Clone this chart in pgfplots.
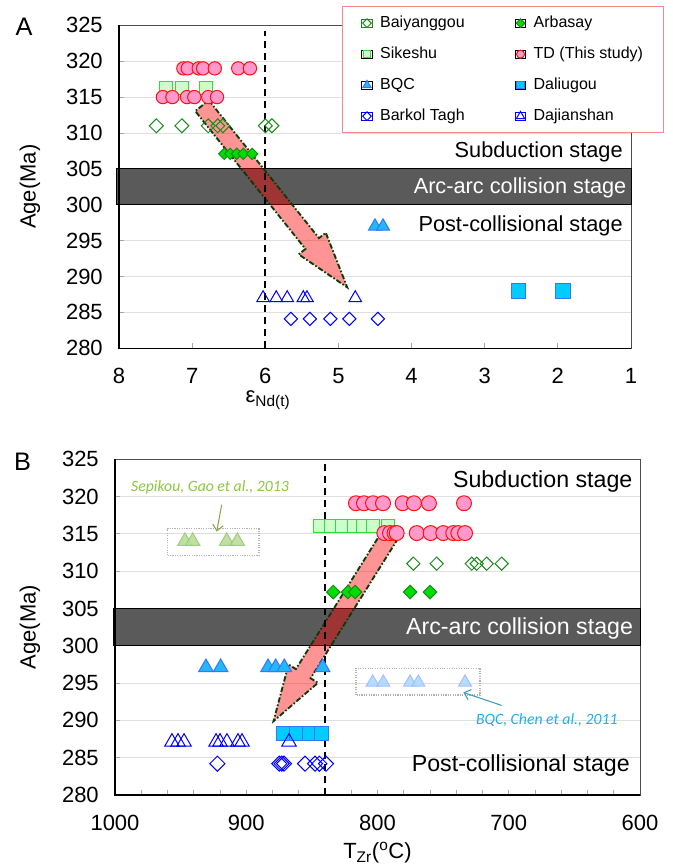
\documentclass[border=0pt]{standalone}
\usepackage{fontspec}
\setmainfont{Liberation Sans}
\newfontfamily\annfont{Carlito}
\usepackage{pgfplots}
\pgfplotsset{compat=1.18}
\usetikzlibrary{calc,arrows.meta}

\definecolor{cBaiy}{HTML}{1A8A1A}
\definecolor{cArbF}{HTML}{00DD00}
\definecolor{cArbE}{HTML}{1A8A1A}
\definecolor{cSikF}{HTML}{CCFFCC}
\definecolor{cSikE}{HTML}{33DD33}
\definecolor{cTDF}{HTML}{FF99CC}
\definecolor{cTDE}{HTML}{FF1010}
\definecolor{cBQCF}{HTML}{22B8F8}
\definecolor{cBQCE}{HTML}{3377FF}
\definecolor{cDalF}{HTML}{00CCFF}
\definecolor{cDalE}{HTML}{3377FF}
\definecolor{cBlue}{HTML}{0000FF}
\definecolor{cBand}{HTML}{5A5A5A}
\definecolor{cSepF}{HTML}{BADD98}
\definecolor{cSepE}{HTML}{94CC78}
\definecolor{cChenF}{HTML}{A8DCFF}
\definecolor{cChenE}{HTML}{A8B8FF}
\definecolor{cSepT}{HTML}{8DC63F}
\definecolor{cSepA}{HTML}{8AA64A}
\definecolor{cChenT}{HTML}{1CB0E8}
\definecolor{cChenA}{HTML}{3AA0B8}
\definecolor{cLeg}{HTML}{F08C8C}
\definecolor{cArrow}{HTML}{0A3A0A}

\pgfplotsset{
  mk/.style={only marks, line width=0.75pt},
  baiy/.style={mk, color=cBaiy, mark=square, mark options={rotate=45}},
  arb/.style={mk, mark=square*, mark options={rotate=45, draw=cArbE, fill=cArbF}},
  sik/.style={mk, mark=square*, mark options={draw=cSikE, fill=cSikF}},
  td/.style={mk, mark=*, mark options={draw=cTDE, fill=cTDF}},
  bqc/.style={mk, mark=triangle*, mark options={draw=cBQCE, fill=cBQCF}},
  dal/.style={mk, mark=square*, mark options={draw=cDalE, fill=cDalF}},
  bark/.style={mk, color=cBlue, mark=square, mark options={rotate=45}},
  daj/.style={mk, color=cBlue, mark=triangle},
  sep/.style={mk, mark=triangle*, mark options={draw=cSepE, fill=cSepF, opacity=0.9}},
  chen/.style={mk, mark=triangle*, mark options={draw=cChenE, fill=cChenF, opacity=0.9}},
  common/.style={
    scale only axis,
    ymin=280, ymax=325, ytick={280,285,...,325},
    x dir=reverse,
    xtick pos=bottom, ytick pos=left, tick align=inside,
    major tick length=4pt, minor tick length=4pt,
    tick style={draw=gray!70, line width=0.6pt},
    ymajorgrids, grid style={draw=gray!25, line width=0.6pt},
    axis line style={draw=gray!60!black, line width=0.6pt},
    tick label style={font=\fontsize{16.5}{18}\selectfont},
    /pgf/number format/assume math mode=true,
    /pgf/number format/1000 sep={},
    yticklabel style={anchor=east, inner sep=0pt, xshift=-12pt},
    xticklabel style={anchor=north, inner sep=0pt, yshift=-14.8pt},
    label style={font=\fontsize{16.5}{18}\selectfont},
    ylabel={Age(Ma)},
    clip=false,
  },
}

\newcommand{\fatarrow}[2]{%
  \coordinate (FS) at (axis cs:#1);
  \coordinate (FT) at (axis cs:#2);
  \coordinate (FH) at ($(FT)!42pt!(FS)$);
  \path[fill=red, fill opacity=0.42, draw=cArrow, line width=1.4pt,
        dash pattern=on 4pt off 1.5pt on 1.2pt off 1.5pt]
    ($(FS)!6.5pt!90:(FT)$) -- ($(FH)!6.5pt!90:(FT)$) -- ($(FH)!13pt!90:(FT)$) -- (FT)
    -- ($(FH)!13pt!-90:(FT)$) -- ($(FH)!6.5pt!-90:(FT)$) -- ($(FS)!6.5pt!-90:(FT)$) -- cycle;
}

\begin{document}
\begin{tikzpicture}
\path[use as bounding box] (0pt,0pt) rectangle (504.75pt,-649.5pt);

\node[font=\fontsize{19}{22}\selectfont] at (18pt,-20.25pt) {A};
\node[font=\fontsize{19}{22}\selectfont] at (17pt,-346.5pt) {B};

% ---------------- Panel A ----------------
\begin{axis}[common,
  at={(89.25pt,-18.98pt)}, anchor=north west,
  width=384pt, height=242.25pt,
  xmin=1, xmax=8, xtick={1,2,...,8},
  xlabel={ε\textsubscript{Nd(t)}},
  xlabel style={at={(axis description cs:0.291,-0.16)}, anchor=center},
  ylabel style={at={(axis description cs:-0.174,0.5)}, anchor=center},
  legend columns=2, legend cell align=left,
  legend image code/.code={\path (-4pt,-3pt) rectangle (4pt,3pt); \draw[#1] plot coordinates {(0pt,0pt)};},
  legend style={at={(axis description cs:0.4355,1.0598)}, anchor=north west,
    draw=cLeg, line width=0.8pt, fill=white,
    font=\fontsize{12}{14}\selectfont,
    inner xsep=14pt, inner ysep=5pt, row sep=8.25pt,
    nodes={inner sep=1.5pt, text height=9pt, text depth=3pt},
    /tikz/every odd column/.append style={column sep=4pt},
    /tikz/every even column/.append style={column sep=36pt}},
]
\fill[cBand, draw=black, line width=0.6pt] (axis cs:8.04,300) rectangle (axis cs:1,305);

\addplot[baiy, mark size=3.7pt, forget plot] coordinates {(7.49,311)(7.14,311)(6.78,311)(6.65,311)(6.58,311)(6.00,311)(5.91,311)};
\addplot[arb, mark size=3.0pt, forget plot] coordinates {(6.56,307.1)(6.48,307.1)(6.39,307.1)(6.30,307.1)(6.18,307.1)};
\addplot[sik, mark size=5.0pt, forget plot] coordinates {(7.36,316.3)(7.14,316.3)(6.81,316.3)};
\addplot[td, mark size=5.0pt, forget plot] coordinates {(7.12,319)(7.06,319)(6.91,319)(6.85,319)(6.69,319)(6.37,319)(6.21,319)
  (7.40,315)(7.27,315)(7.07,315)(6.97,315)(6.78,315)(6.66,315)};
\addplot[bqc, mark size=5.6pt, forget plot] coordinates {(4.50,297)(4.39,297)};
\addplot[dal, mark size=5.4pt, forget plot] coordinates {(2.54,288)(1.93,288)};
\addplot[bark, mark size=3.5pt, forget plot] coordinates {(5.65,284.1)(5.39,284.1)(5.11,284.1)(4.85,284.1)(4.46,284.1)};
\addplot[daj, mark size=5.5pt, forget plot] coordinates {(6.03,287)(5.85,287)(5.70,287)(5.48,287)(5.43,287)(4.77,287)};

\fatarrow{6.865,313.8}{4.88,288.5}

\draw[black, line width=1.5pt, dash pattern=on 5.25pt off 3.75pt] (axis cs:6,280) -- (axis cs:6,324.2);
\draw[black, line width=0.8pt] (axis description cs:0,1) -- (axis description cs:0,0) -- (axis description cs:1,0);

\node[anchor=east, inner sep=0pt, font=\fontsize{16.3}{18}\selectfont] at (axis cs:1.11,307.4) {Subduction stage};
\node[anchor=east, inner sep=0pt, text=white, font=\fontsize{16.3}{18}\selectfont] at (axis cs:1.06,302.3) {Arc-arc collision stage};
\node[anchor=east, inner sep=0pt, font=\fontsize{16.3}{18}\selectfont] at (axis cs:1.11,297.0) {Post-collisional stage};

\addlegendimage{baiy, mark size=2.3pt}\addlegendentry{Baiyanggou}
\addlegendimage{arb, mark size=2.3pt}\addlegendentry{Arbasay}
\addlegendimage{sik, mark size=2.8pt}\addlegendentry{Sikeshu}
\addlegendimage{td, mark size=3pt}\addlegendentry{TD (This study)}
\addlegendimage{bqc, mark size=3.6pt}\addlegendentry{BQC}
\addlegendimage{dal, mark size=2.8pt}\addlegendentry{Daliugou}
\addlegendimage{bark, mark size=2.3pt}\addlegendentry{Barkol Tagh}
\addlegendimage{daj, mark size=3.6pt}\addlegendentry{Dajianshan}
\end{axis}

% ---------------- Panel B ----------------
\begin{axis}[common,
  at={(86.25pt,-344.4pt)}, anchor=north west,
  width=393.75pt, height=251.85pt,
  xmin=600, xmax=1000, xtick={600,700,...,1000}, minor x tick num=4,
  xlabel={T\textsubscript{Zr}(\textsuperscript{o}C)},
  xlabel style={at={(axis description cs:0.5,-0.172)}, anchor=center},
  ylabel style={at={(axis description cs:-0.162,0.5)}, anchor=center},
]
\fill[cBand, draw=black, line width=0.6pt] (axis cs:1001.3,300) rectangle (axis cs:600,305);

\addplot[sep, mark size=6.3pt] coordinates {(946.7,314)(940.8,314)(914.9,314)(906.8,314)};
\addplot[chen, mark size=5.6pt] coordinates {(803.7,295.1)(795.6,295.1)(775.2,295.1)(768.9,295.1)(733.3,295.1)};
\addplot[baiy, mark size=3.5pt] coordinates {(772.7,311)(754.9,311)(728.2,311)(724.4,311)(716.8,311)(705.4,311)};
\addplot[arb, mark size=3.6pt] coordinates {(833.7,307.2)(822.5,307.2)(817.1,307.2)(775.2,307.2)(760.0,307.2)};
\addplot[sik, mark size=4.8pt] coordinates {(843.8,316.1)(835.4,316.1)(827.0,316.1)(817.9,316.1)(811.0,316.1)(803.4,316.1)(792.0,316.1)};
\addplot[td, mark size=5.6pt] coordinates {(816.4,319.1)(810.3,319.1)(803.4,319.1)(795.8,319.1)(780.8,319.1)(772.2,319.1)(760.8,319.1)(734.1,319.1)
  (794.8,315.1)(790.5,315.1)(787.0,315.1)(785.4,315.1)(770.1,315.1)(759.5,315.1)(749.9,315.1)(742.3,315.1)(738.4,315.1)(733.3,315.1)};
\addplot[bqc, mark size=6.3pt] coordinates {(930.7,297.1)(919.5,297.1)(883.4,297.1)(877.6,297.1)(871.0,297.1)(841.8,297.1)};
\addplot[dal, mark size=5.3pt] coordinates {(871.2,288.3)(861.6,288.3)(851.4,288.3)(842.5,288.3)};
\addplot[bark, mark size=4.0pt] coordinates {(922.0,284.2)(874.8,284.2)(873.0,284.2)(871.2,284.2)(855.2,284.2)(847.6,284.2)(844.3,284.2)(839.2,284.2)};
\addplot[daj, mark size=6.3pt] coordinates {(956.6,287.1)(952.0,287.1)(947.4,287.1)(923.0,287.1)(920.0,287.1)(914.7,287.1)(906.3,287.1)(903.2,287.1)(867.4,287.1)};

\fatarrow{789.9,315.0}{879.2,289.9}

\draw[black, line width=1.5pt, dash pattern=on 5.25pt off 3.75pt] (axis cs:840,280) -- (axis cs:840,324.7);
\draw[black, line width=0.8pt] (axis description cs:0,1) -- (axis description cs:0,0) -- (axis description cs:1,0);

\draw[gray!60, densely dotted, line width=0.8pt] (axis cs:959.8,312.1) rectangle (axis cs:890.3,315.7);
\draw[gray!60, densely dotted, line width=0.8pt] (axis cs:816.4,293.4) rectangle (axis cs:721.9,297.0);
\node[text=cSepT, font=\annfont\itshape\fontsize{11.8}{13}\selectfont] at (axis cs:927.6,321.2) {Sepikou, Gao et al., 2013};
\draw[cSepA, line width=0.8pt, -{Straight Barb[length=4.5pt,width=8pt]}] (axis cs:918.7,318.9) -- (axis cs:922.5,315.3);
\node[text=cChenT, font=\annfont\itshape\fontsize{11.8}{13}\selectfont] at (axis cs:671,290.0) {BQC, Chen et al., 2011};
\draw[cChenA, line width=0.8pt, -{Straight Barb[length=4.5pt,width=8pt]}] (axis cs:705.4,292.0) -- (axis cs:734.6,293.75);

\node[anchor=east, inner sep=0pt, font=\fontsize{17.4}{19}\selectfont] at (axis cs:605.6,322.0) {Subduction stage};
\node[anchor=east, inner sep=0pt, text=white, font=\fontsize{17.4}{19}\selectfont] at (axis cs:605.1,302.3) {Arc-arc collision stage};
\node[anchor=east, inner sep=0pt, font=\fontsize{17.4}{19}\selectfont] at (axis cs:607.6,284.0) {Post-collisional stage};
\end{axis}
\end{tikzpicture}
\end{document}
